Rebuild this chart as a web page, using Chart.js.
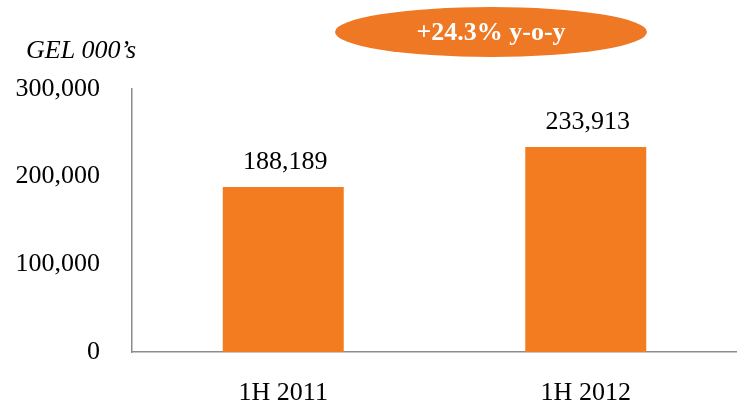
<!DOCTYPE html>
<html>
<head>
<meta charset="utf-8">
<script src="https://cdn.jsdelivr.net/npm/chart.js@4/dist/chart.umd.min.js"></script>
<style>
  html, body { margin: 0; padding: 0; background: #fff; }
  #wrap { width: 737px; height: 404px; position: relative; }
</style>
</head>
<body>
<div id="wrap"><canvas id="myChart"></canvas></div>
<script>
const periods = ['1H 2011', '1H 2012'];
const revenue = [188189, 233913];
const unitLabel = 'GEL 000\u2019s';
const growthLabel = '+24.3% y-o-y';

const barColor = '#F47C20';
const serif = "'Liberation Serif', 'Times New Roman', serif";

// value labels above the bars, unit caption, growth bubble
const extras = {
    id: 'extras',
    afterDatasetsDraw(chart) {
        const c = chart.ctx;
        const meta = chart.getDatasetMeta(0);
        c.save();
        c.fillStyle = '#000';
        c.font = '26px ' + serif;
        c.textAlign = 'center';
        c.textBaseline = 'alphabetic';
        meta.data.forEach((bar, i) => {
            c.fillText(revenue[i].toLocaleString('en-US'), bar.x + 2, bar.y - 18);
        });

        c.font = 'italic 26px ' + serif;
        c.textAlign = 'left';
        c.fillText(unitLabel, 26, 58);

        c.fillStyle = '#EE7823';
        c.beginPath();
        c.ellipse(491, 32, 156, 25, 0, 0, Math.PI * 2);
        c.fill();
        c.fillStyle = '#fff';
        c.font = 'bold 26px ' + serif;
        c.textAlign = 'center';
        c.textBaseline = 'middle';
        c.fillText(growthLabel, 491, 33);
        c.restore();
    }
};

const ctx = document.getElementById('myChart').getContext('2d');
var myChart = new Chart(ctx, {
    type: 'bar',
    data: {
        labels: periods,
        datasets: [{
            data: revenue,
            backgroundColor: barColor,
            barPercentage: 0.4,
            categoryPercentage: 1
        }]
    },
    options: {
        responsive: true,
        maintainAspectRatio: false,
        animation: false,
        layout: { autoPadding: false, padding: { top: 89, right: 0, bottom: 0, left: 0 } },
        plugins: {
            legend: { display: false },
            tooltip: { enabled: false }
        },
        scales: {
            x: {
                grid: { display: false },
                border: { display: true, color: '#8c8c8c', width: 1.5 },
                ticks: { color: '#000', font: { family: serif, size: 26 }, padding: 18, maxRotation: 0 },
                afterFit(scale) { scale.height = 52; }
            },
            y: {
                min: 0,
                max: 300000,
                grid: { display: false },
                border: { display: true, color: '#8c8c8c', width: 1.5 },
                ticks: {
                    stepSize: 100000,
                    color: '#000',
                    padding: 24,
                    font: { family: serif, size: 26 },
                    callback: v => v.toLocaleString('en-US')
                },
                afterFit(scale) { scale.width = 132; }
            }
        }
    },
    plugins: [extras]
});
</script>
</body>
</html>
